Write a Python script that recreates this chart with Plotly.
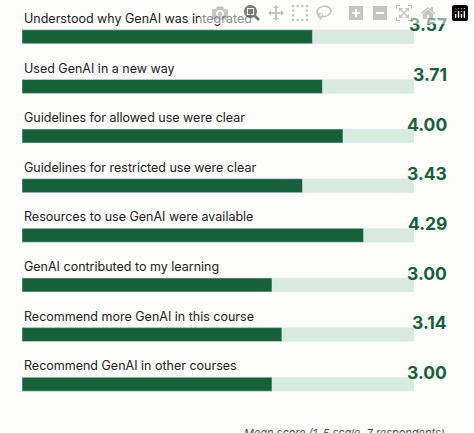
import plotly.graph_objects as go

labels = ["Understood why GenAI was integrated", "Used GenAI in a new way",
          "Guidelines for allowed use were clear", "Guidelines for restricted use were clear",
          "Resources to use GenAI were available", "GenAI contributed to my learning",
          "Recommend more GenAI in this course", "Recommend GenAI in other courses"]
scores = [3.57, 3.71, 4.00, 3.43, 4.29, 3.00, 3.14, 3.00]
scale_max = 5

xmin = -0.52
ys = list(range(len(labels)))
fig = go.Figure()
fig.add_bar(x=[scale_max - xmin] * len(ys), y=ys, base=xmin, orientation="h",
            marker_color="#d8eadf", width=0.28, hoverinfo="skip")
fig.add_bar(x=[s - xmin for s in scores], y=ys, base=xmin, orientation="h",
            marker_color="#17603a", width=0.28)
for i, (l, s) in enumerate(zip(labels, scores)):
    fig.add_annotation(x=xmin, y=i - 0.37, text=l, showarrow=False, xanchor="left",
                       yanchor="middle", font=dict(size=12.5, color="#222"))
    fig.add_annotation(x=462/474, xref="paper", y=i - 0.24, text=f"<b>{s:.2f}</b>", showarrow=False,
                       xanchor="right", yanchor="middle", font=dict(size=17.5, color="#17603a"))
fig.add_annotation(x=460/474, xref="paper", y=-24/397, yref="paper",
                   text="<i>Mean score (1–5 scale, 7 respondents)</i>", showarrow=False,
                   xanchor="right", yanchor="middle", font=dict(size=11, color="#555"))
fig.update_layout(width=474, height=433, barmode="overlay", showlegend=False,
                  margin=dict(l=22, r=14, t=12, b=24),
                  paper_bgcolor="#fdfdfb", plot_bgcolor="#fdfdfb",
                  font=dict(family="Inter, Roboto, sans-serif"),
                  xaxis=dict(range=[xmin, scale_max], visible=False, domain=[0, 392/438]),
                  yaxis=dict(range=[7.5, -0.5], visible=False))
fig.write_html("out.html")
with open("out.html", encoding="utf-8") as f:
    html = f.read()
html = html.replace("<body>", '<body style="margin:0;overflow:hidden;background:#fdfdfb">', 1)
with open("out.html", "w", encoding="utf-8") as f:
    f.write(html)
